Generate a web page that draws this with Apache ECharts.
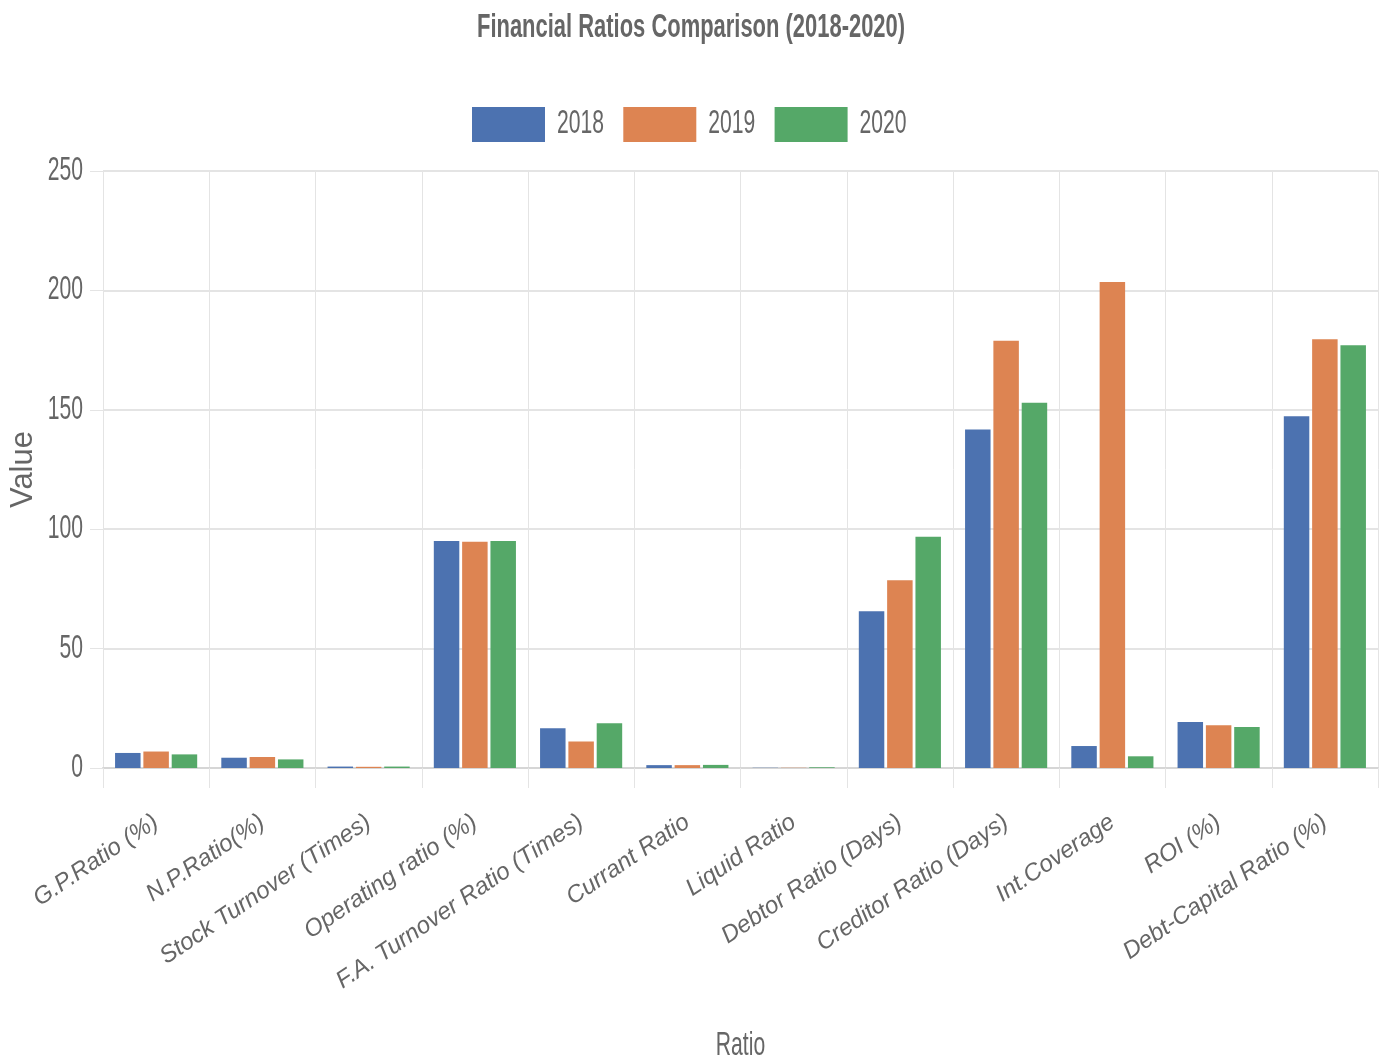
<!DOCTYPE html>
<html>
<head>
<meta charset="utf-8">
<script src="https://cdn.jsdelivr.net/npm/echarts@6/dist/echarts.min.js"></script>
<style>
html,body{margin:0;padding:0;background:#fff;overflow:hidden;}
#c{width:1392px;height:1064px;}
</style>
</head>
<body>
<div id="c"></div>
<script>
const categories = ["G.P.Ratio (%)", "N.P.Ratio(%)", "Stock Turnover (Times)", "Operating ratio (%)", "F.A. Turnover Ratio (Times)", "Currant Ratio", "Liquid Ratio", "Debtor Ratio (Days)", "Creditor Ratio (Days)", "Int.Coverage", "ROI (%)", "Debt-Capital Ratio (%)"];
const seriesNames = ["2018", "2019", "2020"];
const values2018 = [6.3, 4.3, 0.6, 95.1, 16.6, 1.2, 0.1, 65.6, 141.8, 9.2, 19.3, 147.3];
const values2019 = [6.9, 4.6, 0.5, 94.7, 11.1, 1.2, 0.1, 78.6, 178.9, 203.5, 17.9, 179.5];
const values2020 = [5.7, 3.6, 0.6, 95.1, 18.7, 1.3, 0.3, 96.8, 152.9, 4.9, 17.2, 177.0];
const yTicks = ["0", "50", "100", "150", "200", "250"];
const colors = ["#4C72B0", "#DD8452", "#55A868"];
const TITLE = 'Financial Ratios Comparison (2018-2020)';

const SANS = "'Liberation Sans', Arial, Helvetica, sans-serif";
const chart = echarts.init(document.getElementById('c'));
const allValues = [values2018, values2019, values2020];
chart.setOption({
  animation: false,
  title: {
    text: TITLE,
    left: 472, top: 6,
    textStyle: { fontFamily: SANS, fontSize: 33, fontWeight: 'bold', color: '#666' }
  },
  legend: {
    data: seriesNames,
    top: 102, left: 467,
    itemWidth: 73, itemHeight: 35, itemGap: 1,
    icon: 'rect',
    textStyle: { fontFamily: SANS, fontSize: 32.5, color: '#666' }
  },
  grid: { left: 103, right: 14, top: 171, bottom: 296, containLabel: false, outerBoundsMode: 'none' },
  xAxis: {
    type: 'category',
    data: categories,
    name: 'Ratio', nameLocation: 'middle', nameGap: 262, nameMoveOverlap: false,
    nameTextStyle: { fontFamily: SANS, fontSize: 32.5, color: '#666' },
    axisLine: { show: true, lineStyle: { color: '#d6d6d6', width: 2 } },
    axisTick: { show: true, length: 20, interval: 0, lineStyle: { color: '#e4e4e4' } },
    splitLine: { show: true, interval: 0, lineStyle: { color: '#e4e4e4' } },
    axisLabel: {
      interval: 0, rotate: 34, margin: 52,
      fontFamily: SANS, fontStyle: 'italic', fontSize: 24, color: '#666'
    }
  },
  yAxis: {
    type: 'value', min: 0, max: 250, interval: 50,
    name: 'Value', nameLocation: 'middle', nameGap: 64, nameRotate: 90, nameMoveOverlap: false,
    nameTextStyle: { fontFamily: SANS, fontSize: 31, color: '#666' },
    axisLine: { show: true, lineStyle: { color: '#e4e4e4' } },
    axisTick: { show: true, length: 13, lineStyle: { color: '#e4e4e4' } },
    splitLine: { show: true, lineStyle: { color: '#e4e4e4', width: 2 } },
    axisLabel: { fontFamily: SANS, fontSize: 32.5, color: '#666', margin: 20 }
  },
  series: seriesNames.map((n, i) => ({
    name: n, type: 'bar', data: allValues[i],
    barCategoryGap: '22.7%', barGap: '11.1%',
    itemStyle: { color: colors[i] }
  }))
});

// Narrow the horizontal texts (the reference shows them condensed)
(function squeeze() {
  try {
    const zr = chart.getZr();
    const narrowSet = new Set(yTicks.concat(['Ratio']));
    const visit = (el) => {
      if (el.type !== 'text' || !el.style) return;
      const txt = String(el.style.text);
      let s = null, dx = 0;
      if (txt === TITLE) s = 0.665;
      else if (seriesNames.indexOf(txt) >= 0) { s = 0.65; dx = 7; }
      else if (narrowSet.has(txt)) s = 0.65;
      if (s == null) return;
      el.originX = el.style.x || 0;
      el.originY = el.style.y || 0;
      el.scaleX = s;
      el.x = (el.x || 0) + dx;
      el.markRedraw();
    };
    zr.storage.getRoots().forEach(r => {
      visit(r);
      if (r.traverse) r.traverse(visit);
    });
    zr.refreshImmediately();
  } catch (e) { console.error(e); }
})();
</script>
</body>
</html>
